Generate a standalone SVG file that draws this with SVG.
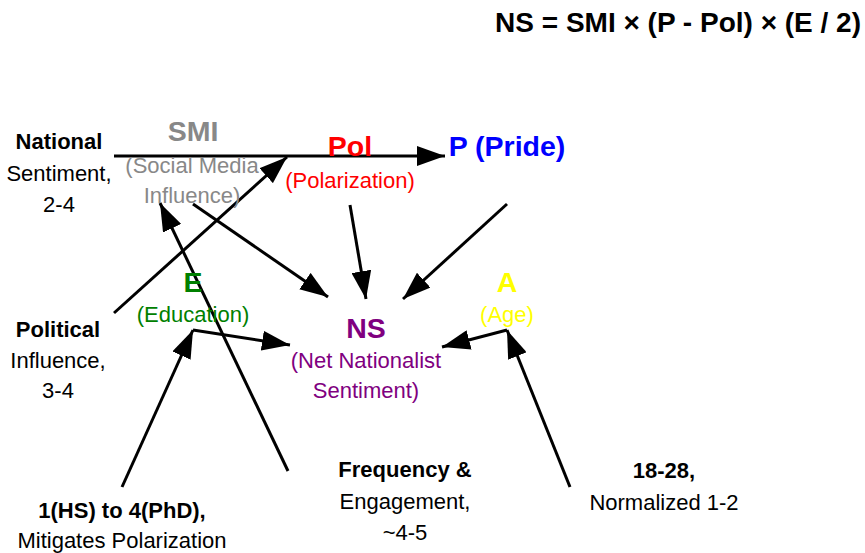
<svg xmlns="http://www.w3.org/2000/svg" width="865" height="553" viewBox="0 0 865 553">
<style>
text{font-family:"Liberation Sans",Arial,sans-serif;text-anchor:middle}
.h{font-size:28.5px;font-weight:bold}
.s{font-size:22px}
.b{font-size:22px;font-weight:bold;fill:#000}
.n{font-size:22px;fill:#000}
.c line,.c polyline{stroke:#000;stroke-width:3;fill:none;marker-end:url(#ah)}
</style>
<defs>
<marker id="ah" markerUnits="userSpaceOnUse" markerWidth="28" markerHeight="20" refX="28" refY="10" orient="auto" viewBox="0 0 28 20">
<path d="M0,0 L28,10 L0,20 z" fill="#000"/>
</marker>
</defs>
<rect width="865" height="553" fill="#fff"/>
<g id="connectors" class="c">
<line x1="114" y1="156" x2="445" y2="156"/>
<line x1="114" y1="313" x2="287" y2="157"/>
<line x1="193" y1="204" x2="328" y2="297"/>
<line x1="288" y1="471" x2="160" y2="203"/>
<line x1="350" y1="205" x2="366" y2="299"/>
<line x1="507" y1="204" x2="403" y2="299"/>
<line x1="122" y1="487" x2="193" y2="330"/>
<line x1="193" y1="330" x2="290" y2="345"/>
<line x1="570" y1="487" x2="507" y2="330"/>
<line x1="507" y1="330" x2="442" y2="347"/>
</g>
<g id="formula"><text class="h" x="861" y="32" style="text-anchor:end;font-size:28px" fill="#000">NS = SMI × (P - Pol) × (E / 2)</text></g>
<g id="smi"><text class="h" x="193" y="141" fill="#888888">SMI</text><text class="s" x="192" y="173" fill="#888888">(Social Media</text><text class="s" x="192" y="203" fill="#888888">Influence)</text></g>
<g id="pol"><text class="h" x="350" y="156" fill="#ff0000">Pol</text><text class="s" x="350" y="188" fill="#ff0000">(Polarization)</text></g>
<g id="pride"><text class="h" x="507" y="156" fill="#0000ff">P (Pride)</text></g>
<g id="edu"><text class="h" x="193" y="292" fill="#008000">E</text><text class="s" x="193" y="322" fill="#008000">(Education)</text></g>
<g id="ns"><text class="h" x="366" y="338" fill="#800080">NS</text><text class="s" x="366" y="368" fill="#800080">(Net Nationalist</text><text class="s" x="366" y="398" fill="#800080">Sentiment)</text></g>
<g id="age"><text class="h" x="507" y="292" fill="#ffff00">A</text><text class="s" x="507" y="322" fill="#ffff00">(Age)</text></g>
<g id="national"><text class="b" x="59" y="149">National</text><text class="n" x="59" y="181">Sentiment,</text><text class="n" x="59" y="212">2-4</text></g>
<g id="political"><text class="b" x="58" y="337">Political</text><text class="n" x="58" y="368">Influence,</text><text class="n" x="58" y="398">3-4</text></g>
<g id="eduscale"><text class="b" x="122" y="518">1(HS) to 4(PhD),</text><text class="n" x="122" y="548">Mitigates Polarization</text></g>
<g id="freq"><text class="b" x="405" y="477">Frequency &amp;</text><text class="n" x="405" y="509">Engagement,</text><text class="n" x="405" y="540">~4-5</text></g>
<g id="agescale"><text class="b" x="664" y="478">18-28,</text><text class="n" x="664" y="510">Normalized 1-2</text></g>
</svg>
